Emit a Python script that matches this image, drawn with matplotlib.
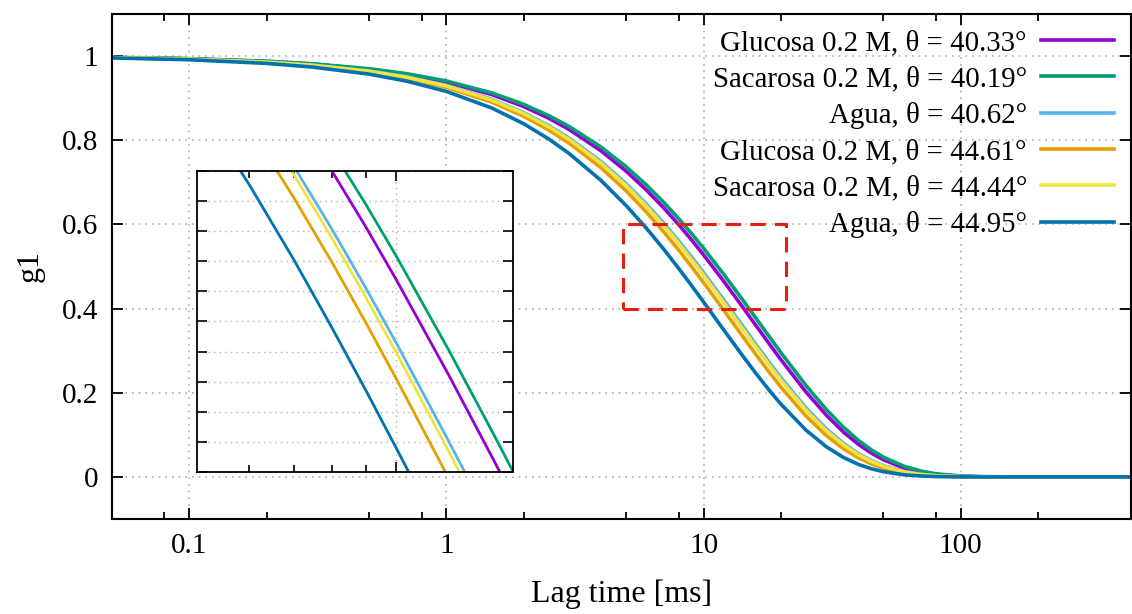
import matplotlib
matplotlib.use("Agg")
import matplotlib.pyplot as plt
from matplotlib.ticker import FixedLocator, NullFormatter
from matplotlib.patches import Rectangle

plt.rcParams["font.family"] = ["Liberation Serif", "DejaVu Serif"]

lag_ms = [0.05, 0.1, 0.2, 0.3, 0.5, 0.7, 1, 1.5, 2, 2.5, 3, 4, 5, 6, 7, 8, 9, 10,
          12, 14, 16, 18, 20, 25, 30, 35, 40, 45, 50, 60, 70, 80, 100, 120, 200, 500]

g1_glu_4033 = [0.9968, 0.9936, 0.9873, 0.9810, 0.9686, 0.9563, 0.9381, 0.9086, 0.8800,
               0.8524, 0.8256, 0.7745, 0.7265, 0.6815, 0.6394, 0.5998, 0.5627, 0.5278,
               0.4645, 0.4088, 0.3597, 0.3166, 0.2786, 0.2024, 0.1471, 0.1068, 0.0776,
               0.0564, 0.0410, 0.0216, 0.0114, 0.0060, 0.0017, 0.0005, 0.0, 0.0]
g1_sac_4019 = [0.9970, 0.9939, 0.9879, 0.9819, 0.9700, 0.9582, 0.9409, 0.9126, 0.8852,
               0.8586, 0.8328, 0.7836, 0.7372, 0.6936, 0.6526, 0.6140, 0.5777, 0.5435,
               0.4811, 0.4259, 0.3770, 0.3337, 0.2954, 0.2178, 0.1605, 0.1183, 0.0872,
               0.0643, 0.0474, 0.0258, 0.0140, 0.0076, 0.0022, 0.0007, 0.0, 0.0]
g1_agua_4062 = [0.9964, 0.9928, 0.9857, 0.9786, 0.9645, 0.9507, 0.9303, 0.8974, 0.8655,
                0.8348, 0.8052, 0.7492, 0.6970, 0.6484, 0.6033, 0.5612, 0.5221, 0.4858,
                0.4205, 0.3639, 0.3150, 0.2726, 0.2360, 0.1645, 0.1146, 0.0799, 0.0557,
                0.0388, 0.0270, 0.0131, 0.0064, 0.0031, 0.0007, 0.0002, 0.0, 0.0]
g1_glu_4461 = [0.9962, 0.9923, 0.9847, 0.9771, 0.9621, 0.9474, 0.9257, 0.8906, 0.8569,
               0.8244, 0.7932, 0.7343, 0.6797, 0.6292, 0.5824, 0.5392, 0.4991, 0.4620,
               0.3959, 0.3392, 0.2907, 0.2491, 0.2134, 0.1451, 0.0986, 0.0670, 0.0456,
               0.0310, 0.0210, 0.0097, 0.0045, 0.0021, 0.0004, 0.0001, 0.0, 0.0]
g1_sac_4444 = [0.9963, 0.9927, 0.9854, 0.9782, 0.9639, 0.9498, 0.9291, 0.8956, 0.8632,
               0.8321, 0.8020, 0.7452, 0.6924, 0.6433, 0.5977, 0.5553, 0.5159, 0.4794,
               0.4138, 0.3572, 0.3084, 0.2662, 0.2298, 0.1591, 0.1102, 0.0763, 0.0528,
               0.0366, 0.0253, 0.0121, 0.0058, 0.0028, 0.0006, 0.0001, 0.0, 0.0]
g1_agua_4495 = [0.9956, 0.9913, 0.9826, 0.9740, 0.9571, 0.9405, 0.9160, 0.8767, 0.8391,
                0.8031, 0.7686, 0.7041, 0.6449, 0.5908, 0.5412, 0.4957, 0.4541, 0.4159,
                0.3490, 0.2929, 0.2457, 0.2062, 0.1730, 0.1116, 0.0720, 0.0464, 0.0299,
                0.0193, 0.0125, 0.0052, 0.0022, 0.0009, 0.0002, 0.0, 0.0, 0.0]

series = [g1_glu_4033, g1_sac_4019, g1_agua_4062, g1_glu_4461, g1_sac_4444, g1_agua_4495]
labels = ["Glucosa 0.2 M, θ = 40.33°", "Sacarosa 0.2 M, θ = 40.19°", "Agua, θ = 40.62°",
          "Glucosa 0.2 M, θ = 44.61°", "Sacarosa 0.2 M, θ = 44.44°", "Agua, θ = 44.95°"]
colors = ["#9400d3", "#009e73", "#56b4e9", "#e69f00", "#f0e442", "#0072b2"]

# zoom window (red box / inset)
box_x = (4.85, 21)
box_y = (0.4, 0.6)
inset_x = (5, 15)

fig = plt.figure(figsize=(11.32, 6.14), dpi=100)
ax = fig.add_axes([0.0989, 0.1547, 0.9002, 0.8225])

for y, lab, c in zip(series, labels, colors):
    ax.plot(lag_ms, y, color=c, lw=2.6, label=lab)

ax.set_xscale("log")
ax.set_xlim(0.05, 460)
ax.set_ylim(-0.1, 1.1)
ax.xaxis.set_major_locator(FixedLocator([0.1, 1, 10, 100]))
ax.xaxis.set_minor_locator(FixedLocator([0.08, 0.2, 0.5, 0.8, 2, 5, 8, 20, 50, 80, 200]))
ax.xaxis.set_minor_formatter(NullFormatter())
ax.set_xticklabels(["0.1", "1", "10", "100"])
ax.set_yticks([0, 0.2, 0.4, 0.6, 0.8, 1.0])
ax.set_yticklabels(["0", "0.2", "0.4", "0.6", "0.8", "1"])
ax.tick_params(which="both", direction="in", top=True, right=True, labelsize=21, width=1.3)
ax.tick_params(which="major", length=8, pad=10)
ax.tick_params(which="minor", length=5)
ax.grid(True, which="major", color="#b0b0b0", linestyle=(0, (1, 3)), lw=1.2)
for s in ax.spines.values():
    s.set_linewidth(1.5)

ax.set_xlabel("Lag time [ms]", fontsize=23, labelpad=15)
ax.set_ylabel("g1", fontsize=23, labelpad=12)

ax.add_patch(Rectangle((box_x[0], box_y[0]), box_x[1] - box_x[0], box_y[1] - box_y[0],
                       fill=False, edgecolor="#e51e10", lw=2.2, linestyle=(0, (5, 3)), zorder=5))

ax.legend(loc="upper right", bbox_to_anchor=(0.983, 0.968), frameon=False, markerfirst=False,
          fontsize=20.8, handlelength=2.5, handletextpad=0.5, labelspacing=0.34,
          borderpad=0, borderaxespad=0)

# inset
ins = fig.add_axes([0.174, 0.2313, 0.279, 0.4902])
for y, c in zip(series, colors):
    ins.plot(lag_ms, y, color=c, lw=2.0)
ins.set_xscale("log")
ins.set_xlim(inset_x)
ins.set_ylim(box_y)
ins.xaxis.set_major_locator(FixedLocator([10]))
ins.xaxis.set_minor_locator(FixedLocator([6, 7, 8, 9]))
ins.yaxis.set_major_locator(FixedLocator([0.4 + 0.02 * i for i in range(11)]))
ins.tick_params(which="both", direction="in", top=True, right=True, labelbottom=False,
                labelleft=False, width=1.2)
ins.tick_params(which="major", length=7)
ins.tick_params(which="minor", length=5)
ins.xaxis.set_minor_formatter(NullFormatter())
ins.grid(True, which="major", color="#b0b0b0", linestyle=(0, (1, 3)), lw=1.0)
for s in ins.spines.values():
    s.set_linewidth(1.3)

fig.savefig("out.png", dpi=100)
